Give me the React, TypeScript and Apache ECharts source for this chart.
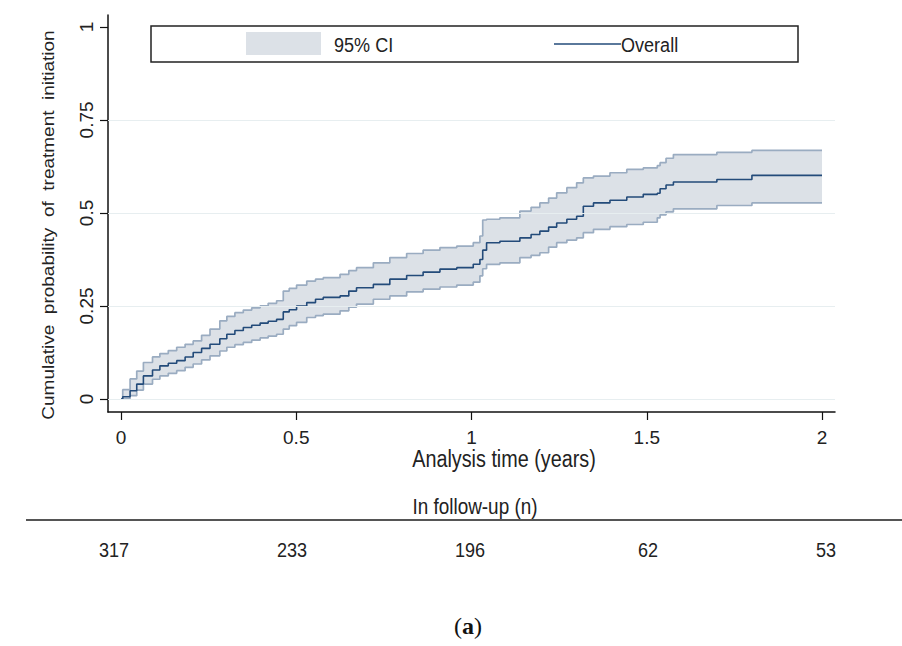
import React, { useEffect, useRef } from "react";
import * as echarts from "echarts";

// ---- data ----
const tYears = [
  0, 0.005, 0.026, 0.045, 0.064, 0.09, 0.111, 0.135, 0.159, 0.183, 0.206, 0.23, 0.254, 0.282,
  0.302, 0.325, 0.349, 0.373, 0.397, 0.42, 0.444, 0.463, 0.48, 0.501, 0.53, 0.555, 0.577,
  0.625, 0.65, 0.672, 0.72, 0.767, 0.815, 0.862, 0.91, 0.958, 1.005, 1.024, 1.032, 1.043,
  1.081, 1.138, 1.17, 1.195, 1.22, 1.243, 1.272, 1.3, 1.319, 1.348, 1.395, 1.443, 1.49,
  1.53, 1.538, 1.555, 1.576, 1.7, 1.8, 2.0,
];
const estimate = [
  0, 0.006, 0.022, 0.04, 0.062, 0.078, 0.089, 0.096, 0.103, 0.113, 0.125, 0.136, 0.147, 0.162,
  0.174, 0.184, 0.192, 0.198, 0.204, 0.209, 0.214, 0.234, 0.24, 0.25, 0.259, 0.268, 0.273,
  0.277, 0.29, 0.299, 0.308, 0.322, 0.332, 0.341, 0.349, 0.353, 0.362, 0.375, 0.4, 0.42,
  0.424, 0.433, 0.442, 0.451, 0.462, 0.473, 0.483, 0.491, 0.518, 0.527, 0.534, 0.543, 0.55,
  0.553, 0.565, 0.575, 0.583, 0.59, 0.601, 0.601,
];
const ciLow = [
  0, 0.001, 0.009, 0.024, 0.04, 0.053, 0.062, 0.069, 0.076, 0.085, 0.094, 0.105, 0.116, 0.129,
  0.139, 0.146, 0.152, 0.158, 0.164, 0.169, 0.174, 0.188, 0.197, 0.206, 0.219, 0.224, 0.228,
  0.237, 0.247, 0.255, 0.268, 0.277, 0.288, 0.295, 0.301, 0.306, 0.314, 0.331, 0.35, 0.362,
  0.366, 0.38, 0.386, 0.393, 0.408, 0.42, 0.427, 0.433, 0.447, 0.456, 0.463, 0.469, 0.475,
  0.487, 0.495, 0.503, 0.511, 0.52, 0.527, 0.527,
];
const ciHigh = [
  0, 0.025, 0.054, 0.075, 0.098, 0.113, 0.122, 0.13, 0.139, 0.147, 0.156, 0.171, 0.188, 0.21,
  0.222, 0.232, 0.239, 0.245, 0.25, 0.257, 0.264, 0.29, 0.297, 0.306, 0.317, 0.322, 0.326,
  0.335, 0.345, 0.353, 0.366, 0.38, 0.391, 0.4, 0.407, 0.411, 0.42, 0.438, 0.481, 0.483,
  0.487, 0.505, 0.515, 0.527, 0.54, 0.554, 0.568, 0.581, 0.594, 0.599, 0.608, 0.617, 0.621,
  0.627, 0.635, 0.647, 0.657, 0.663, 0.668, 0.668,
];
const xTicks = [0, 0.5, 1, 1.5, 2];
const yTicks = [0, 0.25, 0.5, 0.75, 1];
const gridLevels = [0, 0.25, 0.5, 0.75];
const atRiskCounts = [317, 233, 196, 62, 53];

const SANS = "'Liberation Sans', Arial, sans-serif";
const SERIF = "'Liberation Serif', 'DejaVu Serif', serif";
const BAND = "#dce1e7";
const EDGE = "#9aacc1";
const MAIN = "#234b7a";
const INK = "#222";
const NARROW_X = 0.86;

export default function App() {
  const ref = useRef<HTMLDivElement>(null);
  useEffect(() => {
    document.body.style.margin = "0";
    if (!ref.current) return;
    const chart = echarts.init(ref.current, null, { renderer: "svg" });
    const zip = (ys: number[]) => tYears.map((t, i) => [t, ys[i]]);

    const hText = (text: string, x: number, y: number, size: number, align = "center") => ({
      type: "text",
      x,
      y,
      scaleX: NARROW_X,
      style: {
        text,
        fontSize: size,
        fontFamily: SANS,
        fill: INK,
        textAlign: align,
        textVerticalAlign: "middle",
      },
      z: 11,
    });

    const tableTexts = atRiskCounts.map((n, i) => hText(String(n), 114 + i * 178, 549, 21));

    chart.setOption({
      animation: false,
      grid: { left: 108, right: 67, top: 15, bottom: 234, containLabel: false },
      xAxis: {
        type: "value",
        min: -0.037,
        max: 2.037,
        axisLine: { show: true, onZero: false, lineStyle: { color: "#111", width: 1.5 } },
        axisTick: { show: true, customValues: xTicks, length: 8, lineStyle: { color: "#111", width: 1.2 } },
        axisLabel: {
          customValues: xTicks,
          fontSize: 19,
          fontFamily: SANS,
          color: INK,
          margin: 16,
          formatter: (v: number) => String(v),
        },
        splitLine: { show: false },
      },
      yAxis: {
        type: "value",
        min: -0.035,
        max: 1.032,
        axisLine: { show: true, onZero: false, lineStyle: { color: "#111", width: 1.5 } },
        axisTick: { show: true, customValues: yTicks, length: 8, lineStyle: { color: "#111", width: 1.2 } },
        axisLabel: {
          customValues: yTicks,
          rotate: 90,
          fontSize: 19,
          fontFamily: SANS,
          color: INK,
          margin: 12,
          formatter: (v: number) => String(v),
        },
        splitLine: { show: false },
      },
      series: [
        {
          name: "grid",
          type: "line",
          data: [],
          silent: true,
          z: 0,
          markLine: {
            silent: true,
            symbol: "none",
            label: { show: false },
            lineStyle: { color: "#e7eef0", width: 1.2, type: "solid" },
            data: gridLevels.map((v) => ({ yAxis: v })),
          },
        },
        {
          name: "95% CI",
          type: "custom",
          coordinateSystem: "cartesian2d",
          silent: true,
          clip: true,
          z: 1,
          data: tYears.map((t, i) => [t, ciLow[i], ciHigh[i]]),
          encode: { x: 0, y: [1, 2] },
          renderItem: (params: any, api: any) => {
            if (params.dataIndex !== 0) return null;
            const n = tYears.length;
            const pts: number[][] = [];
            for (let i = 0; i < n; i++) {
              if (i > 0) pts.push(api.coord([tYears[i], ciHigh[i - 1]]));
              pts.push(api.coord([tYears[i], ciHigh[i]]));
            }
            for (let i = n - 1; i >= 0; i--) {
              pts.push(api.coord([tYears[i], ciLow[i]]));
              if (i > 0) pts.push(api.coord([tYears[i], ciLow[i - 1]]));
            }
            return { type: "polygon", shape: { points: pts }, style: { fill: BAND }, silent: true };
          },
        },
        {
          name: "ciLow",
          type: "line",
          step: "end",
          data: zip(ciLow),
          symbol: "none",
          silent: true,
          lineStyle: { color: EDGE, width: 1.7 },
          z: 2,
        },
        {
          name: "ciHigh",
          type: "line",
          step: "end",
          data: zip(ciHigh),
          symbol: "none",
          silent: true,
          lineStyle: { color: EDGE, width: 1.7 },
          z: 2,
        },
        {
          name: "Overall",
          type: "line",
          step: "end",
          data: zip(estimate),
          symbol: "none",
          silent: true,
          lineStyle: { color: MAIN, width: 1.6 },
          z: 3,
        },
      ],
      graphic: [
        // legend box
        {
          type: "rect",
          shape: { x: 151, y: 26, width: 647, height: 36 },
          style: { fill: "#fff", stroke: "#222", lineWidth: 1.5 },
          z: 10,
        },
        {
          type: "rect",
          shape: { x: 246, y: 32, width: 75, height: 23 },
          style: { fill: BAND },
          z: 11,
        },
        hText("95% CI", 334, 44, 21, "left"),
        {
          type: "line",
          shape: { x1: 554, y1: 44, x2: 621, y2: 44 },
          style: { stroke: MAIN, lineWidth: 1.5 },
          z: 11,
        },
        hText("Overall", 621, 44, 21, "left"),
        // axis titles
        {
          type: "text",
          x: 48,
          y: 225,
          rotation: Math.PI / 2,
          scaleY: NARROW_X,
          style: {
            text: "Cumulative  probability  of  treatment  initiation",
            fontSize: 19,
            fontFamily: SANS,
            fill: INK,
            textAlign: "center",
            textVerticalAlign: "middle",
          },
        },
        hText("Analysis time (years)", 504, 459, 23),
        // at-risk table
        hText("In follow-up (n)", 475, 506, 22),
        {
          type: "line",
          shape: { x1: 26, y1: 520, x2: 902, y2: 520 },
          style: { stroke: "#555", lineWidth: 2 },
        },
        ...tableTexts,
        {
          type: "text",
          x: 468,
          y: 626,
          style: {
            text: "({b|a})",
            fontSize: 24,
            fontFamily: SERIF,
            fill: "#111",
            textAlign: "center",
            textVerticalAlign: "middle",
            rich: { b: { fontWeight: "bold", fontSize: 24, fontFamily: SERIF, fill: "#111" } },
          },
        },
      ],
    });
    return () => chart.dispose();
  }, []);
  return <div ref={ref} style={{ width: 902, height: 646 }} />;
}
